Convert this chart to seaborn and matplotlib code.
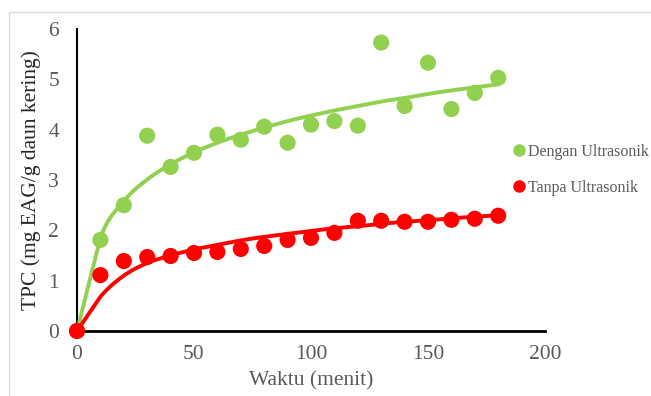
import numpy as np
import pandas as pd
import matplotlib
matplotlib.use("Agg")
import matplotlib.pyplot as plt
import seaborn as sns
from matplotlib.patches import Rectangle
from matplotlib.lines import Line2D

# ---- data ----
waktu = [0, 10, 20, 30, 40, 50, 60, 70, 80, 90, 100, 110, 120, 130, 140, 150, 160, 170, 180]
dengan = [0.00, 1.81, 2.50, 3.88, 3.26, 3.54, 3.90, 3.80, 4.06, 3.74, 4.10, 4.17, 4.08,
          5.73, 4.47, 5.33, 4.41, 4.73, 5.03]
tanpa = [0.00, 1.11, 1.39, 1.47, 1.49, 1.55, 1.57, 1.63, 1.69, 1.81, 1.85, 1.95, 2.19,
         2.19, 2.17, 2.17, 2.21, 2.23, 2.29]
# model curves
dengan_model = [0.00, 1.85, 2.58, 3.01, 3.31, 3.55, 3.74, 3.90, 4.04, 4.17, 4.28, 4.38, 4.47,
                4.56, 4.63, 4.71, 4.78, 4.84, 4.90]
tanpa_model = [0.00, 0.68, 1.10, 1.35, 1.50, 1.62, 1.71, 1.80, 1.87, 1.93, 1.99, 2.04, 2.08,
               2.13, 2.17, 2.20, 2.24, 2.27, 2.30]
series_names = ["Dengan Ultrasonik", "Tanpa Ultrasonik"]
x_ticks = [0, 50, 100, 150, 200]
y_ticks = [0, 1, 2, 3, 4, 5, 6]

GREEN = "#92D050"
RED = "#FF0000"
GRAY = "#595959"


def smooth(xs, ys, n=30):
    """Bezier smoothing through the points (similar to Excel smoothed lines)."""
    xs = np.asarray(xs, float)
    ys = np.asarray(ys, float)
    P = np.column_stack([xs, ys])
    out = []
    for i in range(len(P) - 1):
        p1 = P[i]
        p2 = P[i + 1]
        if i == 0:
            c1 = p1 + (p2 - p1) / 3.0
            c2 = p2 - (p2 - p1) / 3.0
        else:
            p0 = P[i - 1]
            p3 = P[i + 2] if i + 2 < len(P) else P[i + 1]
            c1 = p1 + (p2 - p0) / 6.0
            c2 = p2 - (p3 - p1) / 6.0
        t = np.linspace(0, 1, n, endpoint=(i == len(P) - 2))[:, None]
        seg = ((1 - t) ** 3) * p1 + 3 * ((1 - t) ** 2) * t * c1 + 3 * (1 - t) * t ** 2 * c2 + t ** 3 * p2
        out.append(seg)
    arr = np.vstack(out)
    return arr[:, 0], arr[:, 1]


sns.set_style("white")
plt.rcParams["font.family"] = ["Liberation Serif", "DejaVu Serif"]

fig = plt.figure(figsize=(6.51, 3.96), dpi=100)
ax = fig.add_axes([77 / 651, 1 - 331 / 396, (545 - 77) / 651, (331 - 29) / 396])

# outer chart border
fig.patches.append(Rectangle((9 / 651, -0.05), 1.05, 1 - 12 / 396 + 0.05, transform=fig.transFigure,
                             fill=False, edgecolor="#D9D9D9", linewidth=1.0, zorder=0))

gx, gy = smooth(waktu, dengan_model)
rx, ry = smooth(waktu, tanpa_model)
sns.lineplot(x=gx, y=gy, sort=False, estimator=None, color=GREEN, linewidth=2.8, ax=ax, zorder=2)
sns.lineplot(x=rx, y=ry, sort=False, estimator=None, color=RED, linewidth=2.8, ax=ax, zorder=2)

df = pd.DataFrame({"x": waktu * 2, "y": dengan + tanpa,
                   "seri": [series_names[0]] * len(waktu) + [series_names[1]] * len(waktu)})
sns.scatterplot(data=df, x="x", y="y", hue="seri", palette=[GREEN, RED], s=135,
                linewidth=0, ax=ax, zorder=3, legend=False, clip_on=False)

ax.set_xlim(0, 200)
ax.set_ylim(0, 6)
ax.set_xticks(x_ticks)
ax.set_yticks(y_ticks)
ax.tick_params(axis="both", length=0, labelsize=15.5, colors=GRAY)
ax.tick_params(axis="x", pad=10)
ax.tick_params(axis="y", pad=13)
for s in ["top", "right"]:
    ax.spines[s].set_visible(False)
for s in ["left", "bottom"]:
    ax.spines[s].set_color("black")
ax.spines["left"].set_linewidth(1.5)
ax.spines["bottom"].set_linewidth(2.0)
ax.spines["left"].set_zorder(1)
ax.spines["bottom"].set_zorder(1)

ax.set_xlabel("Waktu (menit)", fontsize=15.5, color=GRAY, labelpad=5)
ax.set_ylabel("TPC (mg EAG/g daun kering)", fontsize=15.5, color="#262626", labelpad=5)

handles = [Line2D([0], [0], marker="o", linestyle="none", markerfacecolor=GREEN, markeredgewidth=0,
                  markersize=9),
           Line2D([0], [0], marker="o", linestyle="none", markerfacecolor=RED, markeredgewidth=0,
                  markersize=9)]
leg = fig.legend(handles, series_names, loc="upper left", bbox_to_anchor=(509 / 651, 1 - 144 / 396),
                 frameon=False, fontsize=11.5, handletextpad=0.0, labelspacing=1.25,
                 handlelength=1.2, borderaxespad=0, borderpad=0)
for t in leg.get_texts():
    t.set_color(GRAY)

fig.savefig("out.png", dpi=100)
